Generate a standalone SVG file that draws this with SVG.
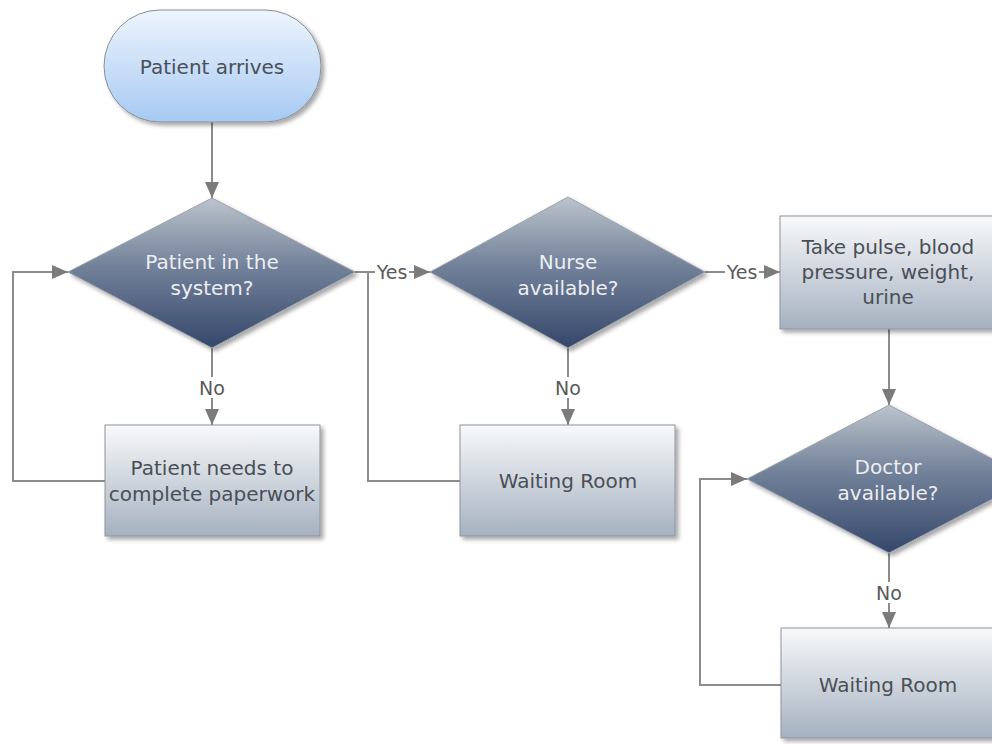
<svg xmlns="http://www.w3.org/2000/svg" width="992" height="744" viewBox="0 0 992 744">
<defs>
<linearGradient id="gTerm" x1="0" y1="0" x2="0" y2="1">
<stop offset="0" stop-color="#eef5fd"/>
<stop offset="1" stop-color="#a6c9f2"/>
</linearGradient>
<linearGradient id="gDia" x1="0" y1="0" x2="0" y2="1">
<stop offset="0" stop-color="#bcc3cb"/>
<stop offset="0.45" stop-color="#73829a"/>
<stop offset="1" stop-color="#35476b"/>
</linearGradient>
<linearGradient id="gBox" x1="0" y1="0" x2="0" y2="1">
<stop offset="0" stop-color="#f8f9fa"/>
<stop offset="1" stop-color="#a5b1c0"/>
</linearGradient>
<filter id="sh" x="-10%" y="-10%" width="130%" height="130%">
<feDropShadow dx="3" dy="3" stdDeviation="2" flood-color="#000" flood-opacity="0.35"/>
</filter>
<marker id="arr" viewBox="0 0 16 14" refX="16" refY="7" markerWidth="16" markerHeight="14" markerUnits="userSpaceOnUse" orient="auto">
<path d="M0,0 L16,7 L0,14 Z" fill="#7b7b7b"/>
</marker>
<style>
.term{fill:url(#gTerm);stroke:#8a8f96;stroke-width:1;filter:url(#sh)}
.dia{fill:url(#gDia);stroke:#9aa2ad;stroke-width:1;filter:url(#sh)}
.box{fill:url(#gBox);stroke:#8e949b;stroke-width:1;filter:url(#sh)}
.t{font-family:"DejaVu Sans",Verdana,sans-serif;font-size:20px;text-anchor:middle;fill:#4a4f57}
.td{font-family:"DejaVu Sans",Verdana,sans-serif;font-size:20px;text-anchor:middle;fill:#eceef2}
.lbl{font-family:"DejaVu Sans",Verdana,sans-serif;font-size:19px;text-anchor:middle;fill:#5a5a5a}
.c{fill:none;stroke:#8c8c8c;stroke-width:2}
.bg{fill:#ffffff}
</style>
</defs>
<rect width="992" height="744" fill="#ffffff"/>

<g id="connectors">
<path class="c" d="M212,122 V198" marker-end="url(#arr)"/>
<path class="c" d="M212,348 V425" marker-end="url(#arr)"/>
<path class="c" d="M105,481 H13 V272 H68" marker-end="url(#arr)"/>
<path class="c" d="M355,272 H430" marker-end="url(#arr)"/>
<path class="c" d="M460,481 H368 V272"/>
<path class="c" d="M568,348 V425" marker-end="url(#arr)"/>
<path class="c" d="M705,272 H780" marker-end="url(#arr)"/>
<path class="c" d="M889,329 V405" marker-end="url(#arr)"/>
<path class="c" d="M889,553 V628" marker-end="url(#arr)"/>
<path class="c" d="M781,685 H700 V479 H747" marker-end="url(#arr)"/>
<g id="labels">
<rect class="bg" x="375" y="262" width="34" height="20"/>
<text class="lbl" x="392" y="279">Yes</text>
<rect class="bg" x="725" y="262" width="34" height="20"/>
<text class="lbl" x="742" y="279">Yes</text>
<rect class="bg" x="199" y="377" width="26" height="21"/>
<text class="lbl" x="212" y="395">No</text>
<rect class="bg" x="555" y="377" width="26" height="21"/>
<text class="lbl" x="568" y="395">No</text>
<rect class="bg" x="876" y="582" width="26" height="21"/>
<text class="lbl" x="889" y="600">No</text>
</g>
</g>

<g id="start">
<rect class="term" x="104" y="10" width="217" height="112" rx="56" ry="56"/>
<text class="t" x="212" y="74">Patient arrives</text>
</g>

<g id="decision-system">
<polygon class="dia" points="212,198 355,272 212,348 68,272"/>
<text class="td" x="212" y="269">Patient in the</text>
<text class="td" x="212" y="295">system?</text>
</g>

<g id="paperwork">
<rect class="box" x="105" y="425" width="215" height="111"/>
<text class="t" x="212" y="475">Patient needs to</text>
<text class="t" x="212" y="501">complete paperwork</text>
</g>

<g id="decision-nurse">
<polygon class="dia" points="568,197 705,272 568,348 430,272"/>
<text class="td" x="568" y="269">Nurse</text>
<text class="td" x="568" y="295">available?</text>
</g>

<g id="waiting-room-1">
<rect class="box" x="460" y="425" width="215" height="111"/>
<text class="t" x="568" y="488">Waiting Room</text>
</g>

<g id="vitals">
<rect class="box" x="780" y="216" width="215" height="113"/>
<text class="t" x="888" y="254">Take pulse, blood</text>
<text class="t" x="888" y="279">pressure, weight,</text>
<text class="t" x="888" y="304">urine</text>
</g>

<g id="decision-doctor">
<polygon class="dia" points="889,405 1031,479 889,553 747,479"/>
<text class="td" x="888" y="474">Doctor</text>
<text class="td" x="888" y="500">available?</text>
</g>

<g id="waiting-room-2">
<rect class="box" x="781" y="628" width="215" height="110"/>
<text class="t" x="888" y="692">Waiting Room</text>
</g>
</svg>
